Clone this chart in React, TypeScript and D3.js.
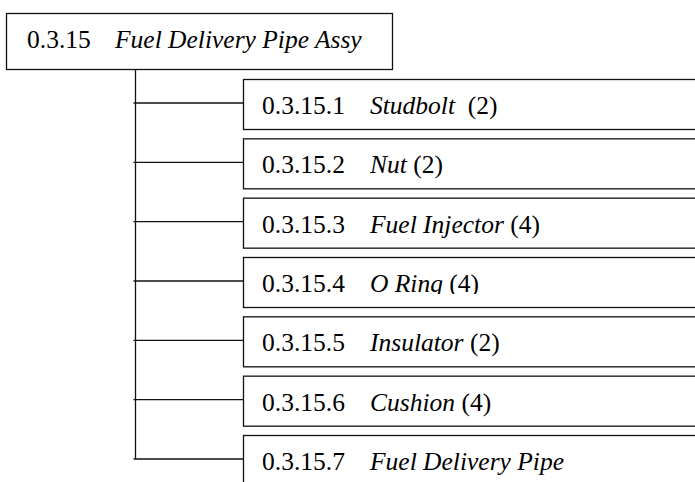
import React, { useEffect, useRef } from 'react';
import * as d3 from 'd3';

// parent item
const rootCode = '0.3.15';
const rootName = 'Fuel Delivery Pipe Assy';

// child items
const childCodes = ['0.3.15.1', '0.3.15.2', '0.3.15.3', '0.3.15.4', '0.3.15.5', '0.3.15.6', '0.3.15.7'];
const childNames = ['Studbolt', 'Nut', 'Fuel Injector', 'O Ring', 'Insulator', 'Cushion', 'Fuel Delivery Pipe'];
const childQty = ['(2)', '(2)', '(4)', '(4)', '(2)', '(4)', ''];
// the source cut the lower part of this label off
const clippedCodes = ['0.3.15.4'];

const W = 695;
const H = 482;
const FONT = 'Liberation Serif, Times New Roman, serif';

const App = () => {
  const svgRef = useRef(null);

  useEffect(() => {
    const svg = d3.select(svgRef.current);
    svg.selectAll('*').remove();

    const stroke = '#111';
    const sw = 1.3;
    const fontSize = 25.5;

    // rows of the children
    const y = d3.scalePoint().domain(childCodes).range([103, 459]);
    const trunkX = 135.5;
    const boxX = 243;
    const boxH = 50;

    // root box
    const root = svg.append('g');
    root.append('rect')
      .attr('x', 6.5).attr('y', 13.5)
      .attr('width', 386).attr('height', 56)
      .attr('fill', '#fff').attr('stroke', stroke).attr('stroke-width', sw);
    const rt = root.append('text')
      .attr('y', 48)
      .style('font-family', FONT)
      .attr('font-size', fontSize)
      .attr('fill', '#000');
    rt.append('tspan').attr('x', 27).text(rootCode);
    rt.append('tspan').attr('x', 115).attr('font-style', 'italic').text(rootName);

    // trunk line
    svg.append('line')
      .attr('x1', trunkX).attr('x2', trunkX)
      .attr('y1', 69.5).attr('y2', y(childCodes[childCodes.length - 1]))
      .attr('stroke', stroke).attr('stroke-width', sw);

    // connectors
    svg.selectAll('.branch')
      .data(childCodes)
      .enter()
      .append('line')
      .attr('class', 'branch')
      .attr('x1', trunkX - 2).attr('x2', boxX)
      .attr('y1', d => y(d)).attr('y2', d => y(d))
      .attr('stroke', stroke).attr('stroke-width', sw);

    const defs = svg.append('defs');

    const rows = svg.selectAll('.child')
      .data(childCodes)
      .enter()
      .append('g')
      .attr('class', 'child');

    rows.append('rect')
      .attr('x', boxX + 0.5)
      .attr('y', d => y(d) - 24 + 0.5)
      .attr('width', W)
      .attr('height', boxH)
      .attr('fill', '#fff')
      .attr('stroke', stroke)
      .attr('stroke-width', sw);

    rows.each(function (d, i) {
      const g = d3.select(this);
      const base = y(d) + 11;
      const t = g.append('text')
        .attr('y', base)
        .style('font-family', FONT)
        .attr('font-size', fontSize)
        .attr('fill', '#000');
      if (clippedCodes.includes(d)) {
        const id = 'clip-' + i;
        defs.append('clipPath').attr('id', id)
          .append('rect')
          .attr('x', boxX).attr('y', y(d) - 24)
          .attr('width', W).attr('height', base - (y(d) - 24) + 2);
        t.attr('clip-path', `url(#${id})`);
      }
      t.append('tspan').attr('x', boxX + 19).text(d);
      t.append('tspan').attr('x', 370).attr('font-style', 'italic').text(childNames[i]);
      if (childQty[i]) {
        t.append('tspan').text((i === 0 ? '\u00a0 ' : ' ') + childQty[i]);
      }
    });
  }, []);

  return (
    <svg
      ref={svgRef}
      width={W}
      height={H}
      style={{ position: 'absolute', left: 0, top: 0, background: '#fff' }}
    />
  );
};

export default App;
